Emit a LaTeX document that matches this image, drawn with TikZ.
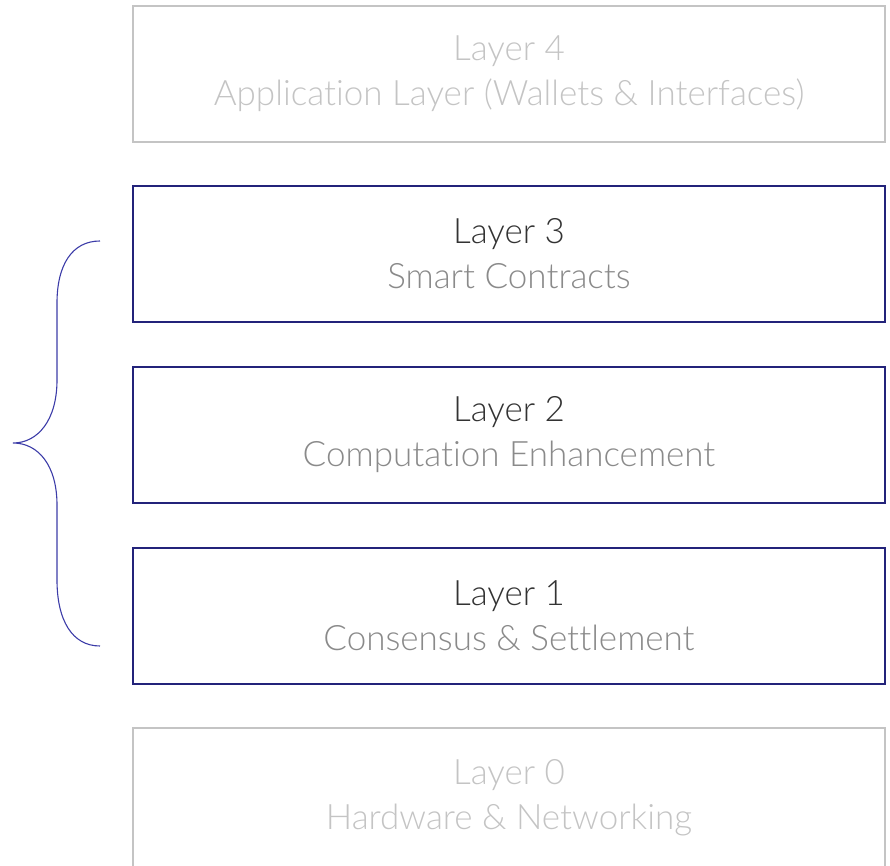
\documentclass[tikz,border=0pt]{standalone}
\usepackage{fontspec}
\setmainfont{Lato Light}[Ligatures={NoCommon}]
\usepackage{xcolor}
\usetikzlibrary{positioning}

\definecolor{navy}{HTML}{23237A}
\definecolor{bracecol}{HTML}{3C3CA8}
\definecolor{faint}{HTML}{C4C4C4}
\definecolor{head}{HTML}{333333}
\definecolor{sub}{HTML}{8A8A8A}

\tikzset{
  layer/.style={draw, line width=2.6pt, minimum width=752pt, minimum height=136pt,
    inner sep=0pt, align=center, font=\fontsize{35}{45}\selectfont},
  dimlayer/.style={layer, draw=faint, text=faint},
  keylayer/.style={layer, draw=navy}
}

\begin{document}
\begin{tikzpicture}[x=1pt, y=1pt]
    \useasboundingbox (0,0) rectangle (890,865);
    \clip (0,0) rectangle (890,865);
    % the stack of layers
    \node[dimlayer] (L4) at (509,791) {Layer 4\\Application Layer (Wallets \& Interfaces)};
    \node[keylayer] (L3) at (509,611) {\textcolor{head}{Layer 3}\\\textcolor{sub}{Smart Contracts}};
    \node[keylayer] (L2) at (509,430) {\textcolor{head}{Layer 2}\\\textcolor{sub}{Computation Enhancement}};
    \node[keylayer] (L1) at (509,249) {\textcolor{head}{Layer 1}\\\textcolor{sub}{Consensus \& Settlement}};
    \node[dimlayer, minimum height=140pt] (L0) at (509,67) {Layer 0\\Hardware \& Networking};
    % brace round layers 1 to 3
    \coordinate (btop) at (100,624);
    \coordinate (bmid) at (13,422);
    \coordinate (bbot) at (100,219);
    \draw[bracecol, line width=1.1pt]
        (btop) .. controls (72,624) and (57,600) .. (57,562) -- (57,485)
        .. controls (57,445) and (38,422) .. (bmid)
        .. controls (38,422) and (57,400) .. (57,360) -- (57,285)
        .. controls (57,245) and (72,219) .. (bbot);
\end{tikzpicture}
\end{document}
